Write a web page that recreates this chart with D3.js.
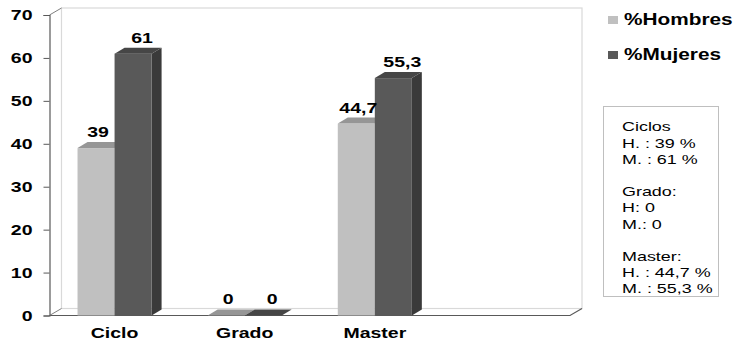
<!DOCTYPE html>
<html>
<head>
<meta charset="utf-8">
<script src="https://cdn.jsdelivr.net/npm/d3@7"></script>
<style>
  html, body { margin: 0; padding: 0; background: #fff; }
  svg { display: block; font-family: "Liberation Sans", Arial, sans-serif; }
</style>
</head>
<body>
<svg id="chart" width="734" height="342"></svg>
<script>
// Data
const categories = ["Ciclo", "Grado", "Master"];
const series = ["%Hombres", "%Mujeres"];
const hombres = [39, 0, 44.7];
const mujeres = [61, 0, 55.3];
const valueLabels = [["39", "0", "44,7"], ["61", "0", "55,3"]];
const yTicks = [0, 10, 20, 30, 40, 50, 60, 70];
const noteLines = ["Ciclos", "H. : 39 %", "M. : 61 %", "", "Grado:", "H: 0", "M.: 0", "", "Master:", "H. : 44,7 %", "M. : 55,3 %"];

const svg = d3.select("#chart");

// Text in this chart is drawn wide; a horizontal stretch keeps the x anchor in place.
function stretch(sel, s, x) {
  sel.attr("x", x / s).attr("transform", `scale(${s},1)`);
}

// Plot geometry (front plane and depth offsets for the pseudo-3D look)
const left = 49.5, floorRight = 570, slotCount = 4;
const slot = (floorRight - left) / slotCount;
const wall = { dx: 12, dy: 7 };
const bar = { dx: 10, dy: 6 };

const y = d3.scaleLinear().domain([0, 70]).range([315.5, 15]);
const x0 = d3.scaleBand().domain(categories).range([left, left + slot * categories.length]);
const x1 = d3.scaleBand().domain(series).range([0, x0.bandwidth()]).paddingOuter(0.757);

const faces = {
  "%Hombres": { front: "#c0c0c0", top: "#969696", side: "#a8a8a8" },
  "%Mujeres": { front: "#595959", top: "#464646", side: "#3a3a3a" }
};

// Back wall
const y0 = y(0), yTop = y(70);
svg.append("rect")
  .attr("x", left + wall.dx).attr("y", yTop - wall.dy)
  .attr("width", floorRight - left).attr("height", y0 - yTop)
  .attr("fill", "#fff").attr("stroke", "#d9d9d9").attr("stroke-width", 1.2);

// Left wall top edge
svg.append("line")
  .attr("x1", left).attr("y1", yTop).attr("x2", left + wall.dx).attr("y2", yTop - wall.dy)
  .attr("stroke", "#7f7f7f");

// Floor edges
svg.append("path")
  .attr("d", `M${left},${y0}L${floorRight},${y0}L${floorRight + wall.dx},${y0 - wall.dy}`)
  .attr("fill", "none").attr("stroke", "#595959").attr("stroke-width", 1.2);
svg.append("line")
  .attr("x1", left).attr("y1", y0).attr("x2", left + wall.dx).attr("y2", y0 - wall.dy)
  .attr("stroke", "#7f7f7f");

// Y axis
const yAxis = d3.axisLeft(y).tickValues(yTicks).tickSize(6).tickPadding(11);
const gy = svg.append("g").attr("transform", `translate(${left},0)`).call(yAxis);
gy.select(".domain").attr("stroke", "#595959").attr("stroke-width", 1.2);
gy.selectAll(".tick line").attr("stroke", "#595959");
gy.selectAll(".tick text")
  .attr("font-family", "'Liberation Sans', Arial, sans-serif")
  .attr("font-size", 15).attr("font-weight", "bold").attr("fill", "#000")
  .call(stretch, 1.3, -17);

// X axis labels
const xAxis = d3.axisBottom(x0).tickSize(0).tickPadding(12);
const gx = svg.append("g").attr("transform", `translate(0,${y0})`).call(xAxis);
gx.select(".domain").remove();
gx.selectAll(".tick text")
  .attr("font-family", "'Liberation Sans', Arial, sans-serif")
  .attr("font-size", 15).attr("font-weight", "bold").attr("fill", "#000")
  .call(stretch, 1.3, 0);

// Bars
const seriesValues = [hombres, mujeres];
const rows = [];
series.forEach((s, si) => {
  categories.forEach((c, ci) => rows.push({ s, si, c, v: seriesValues[si][ci], label: valueLabels[si][ci] }));
});

const g = svg.append("g");
rows.forEach(d => {
  const bx = x0(d.c) + x1(d.s), w = x1.bandwidth();
  const yv = y(d.v);
  const col = faces[d.s];
  const gb = g.append("g");
  // side face
  gb.append("path")
    .attr("d", `M${bx + w},${yv}L${bx + w + bar.dx},${yv - bar.dy}L${bx + w + bar.dx},${y0 - bar.dy}L${bx + w},${y0}Z`)
    .attr("fill", col.side);
  // front face
  gb.append("rect").attr("x", bx).attr("y", yv).attr("width", w).attr("height", y0 - yv).attr("fill", col.front);
  // top face
  gb.append("path")
    .attr("d", `M${bx},${yv}L${bx + bar.dx},${yv - bar.dy}L${bx + w + bar.dx},${yv - bar.dy}L${bx + w},${yv}Z`)
    .attr("fill", col.top);
});

// Value labels
const labelShift = { "%Hombres": 2, "%Mujeres": 9 };
rows.forEach(d => {
  const cx = x0(d.c) + x1(d.s) + x1.bandwidth() / 2 + labelShift[d.s];
  svg.append("text")
    .attr("y", y(d.v) - 11)
    .attr("text-anchor", "middle")
    .attr("font-size", 15).attr("font-weight", "bold").attr("fill", "#000")
    .call(stretch, 1.3, cx)
    .text(d.label);
});

// Legend
series.forEach((s, i) => {
  const ly = 16 + i * 35;
  svg.append("rect").attr("x", 608).attr("y", ly).attr("width", 10).attr("height", 8).attr("fill", faces[s].front);
  svg.append("text").attr("y", ly + 9.5)
    .attr("font-size", 16).attr("font-weight", "bold").attr("fill", "#000")
    .call(stretch, 1.3, 624)
    .text(s);
});

// Summary note box
svg.append("rect").attr("x", 603.5).attr("y", 106.5).attr("width", 115).attr("height", 190)
  .attr("fill", "#fff").attr("stroke", "#bfbfbf");
noteLines.forEach((t, i) => {
  svg.append("text").attr("y", 131.5 + i * 16.2)
    .attr("font-size", 13).attr("fill", "#000")
    .call(stretch, 1.38, 622)
    .text(t);
});
</script>
</body>
</html>
